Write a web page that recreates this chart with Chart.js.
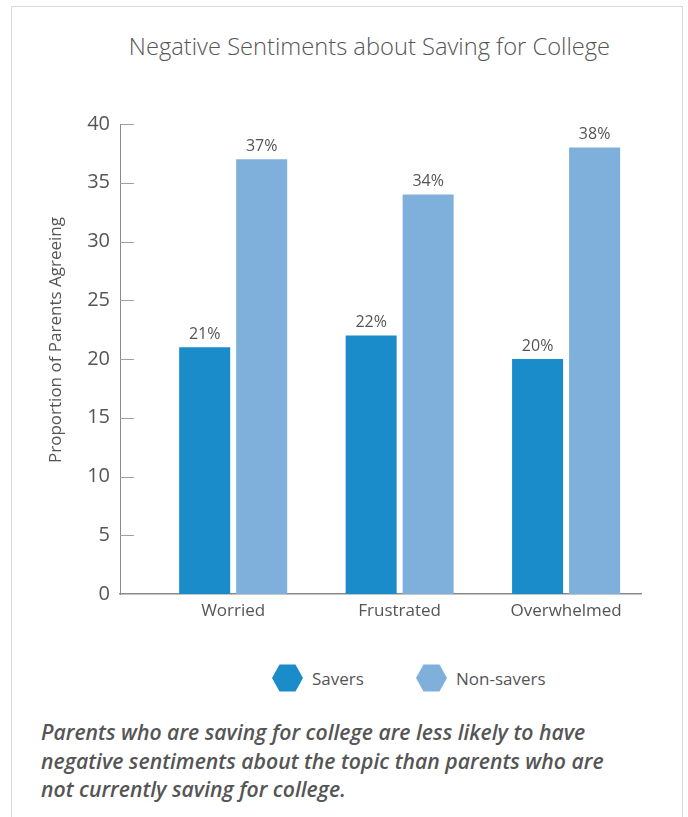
<!DOCTYPE html>
<html>
<head>
<meta charset="utf-8">
<script src="https://cdn.jsdelivr.net/npm/chart.js@4.4.1/dist/chart.umd.min.js"></script>
<style>
  html, body { margin: 0; padding: 0; background: #fff; }
  body { width: 688px; height: 817px; position: relative; overflow: hidden;
         font-family: "Open Sans", "Noto Sans", sans-serif; color: #555; }
  .card { position: absolute; left: 11px; top: 6px; width: 672px; height: 840px;
          border: 1px solid #d9d9d9; box-sizing: border-box; }
  #title { position: absolute; left: 0; width: 739px; top: 30px; text-align: center;
           font-size: 23.7px; font-weight: 300; white-space: nowrap; color: #555; }
  #chartWrap { position: absolute; left: 0; top: 0; width: 688px; height: 640px; }
  #legend { position: absolute; top: 663px; left: 0; width: 688px; height: 30px; }
  .item { position: absolute; top: 0; height: 30px; display: flex; align-items: center;
          font-size: 17px; color: #555; }
  .item svg { margin-right: 9px; }
  #caption { position: absolute; left: 41px; top: 718px; width: 630px;
             font-size: 21.2px; line-height: 28.5px; font-style: italic; font-weight: 600;
             color: #555; white-space: nowrap; }
</style>
</head>
<body>
<div class="card"></div>
<div id="title">Negative Sentiments about Saving for College</div>
<div id="chartWrap"><canvas id="chart" width="688" height="640"></canvas></div>
<div id="legend"></div>
<div id="caption">Parents who are saving for college are less likely to have<br>negative sentiments about the topic than parents who are<br>not currently saving for college.</div>

<script>
// Categories and series
const categories = ["Worried", "Frustrated", "Overwhelmed"];
const savers = [21, 22, 20];
const nonSavers = [37, 34, 38];
const seriesNames = ["Savers", "Non-savers"];
const yTicks = [0, 5, 10, 15, 20, 25, 30, 35, 40];

const COLORS = ["#1a8cca", "#7fb0dc"];
const TEXT = "#555555";
const AXIS = "#8a8a8a";

// Short inward tick marks on the value axis
const innerTicks = {
  id: "innerTicks",
  afterDraw(chart) {
    const y = chart.scales.y;
    const ctx = chart.ctx;
    const x0 = chart.chartArea.left;
    ctx.save();
    ctx.strokeStyle = "#a0a0a0";
    ctx.lineWidth = 1;
    yTicks.forEach(v => {
      if (v === 0) return;
      const py = Math.round(y.getPixelForValue(v)) + 0.5;
      ctx.beginPath();
      ctx.moveTo(x0, py);
      ctx.lineTo(x0 + 14, py);
      ctx.stroke();
    });
    ctx.restore();
  }
};

// Percent labels above each bar
const valueLabels = {
  id: "valueLabels",
  afterDatasetsDraw(chart) {
    const ctx = chart.ctx;
    ctx.save();
    ctx.font = '16px "Open Sans", sans-serif';
    ctx.fillStyle = TEXT;
    ctx.textAlign = "center";
    ctx.textBaseline = "bottom";
    chart.data.datasets.forEach((ds, di) => {
      chart.getDatasetMeta(di).data.forEach((bar, i) => {
        ctx.fillText(ds.data[i].y + "%", bar.x, bar.y - 5);
      });
    });
    ctx.restore();
  }
};

// Rotated value-axis title
const yTitle = {
  id: "yTitle",
  afterDraw(chart) {
    const ctx = chart.ctx;
    ctx.save();
    ctx.translate(56, 340);
    ctx.rotate(-Math.PI / 2);
    ctx.font = '17px "Open Sans", sans-serif';
    ctx.fillStyle = TEXT;
    ctx.textAlign = "center";
    ctx.textBaseline = "middle";
    ctx.fillText("Proportion of Parents Agreeing", 0, 0);
    ctx.restore();
  }
};

const chart = new Chart(document.getElementById("chart"), {
  type: "bar",
  data: {
    datasets: [
      { label: seriesNames[0], data: savers.map((v, i) => ({ x: i, y: v })),
        backgroundColor: COLORS[0], borderWidth: 0 },
      { label: seriesNames[1], data: nonSavers.map((v, i) => ({ x: i, y: v })),
        backgroundColor: COLORS[1], borderWidth: 0 }
    ]
  },
  options: {
    responsive: false,
    animation: false,
    events: [],
    categoryPercentage: 0.685,
    barPercentage: 0.895,
    layout: { padding: { top: 124, right: 47, left: 0, bottom: 0 } },
    plugins: { legend: { display: false }, tooltip: { enabled: false }, title: { display: false } },
    scales: {
      x: {
        type: "linear",
        offset: false,
        bounds: "data",
        min: -0.68,
        max: 2.45,
        grid: { display: false, drawTicks: false, offset: false },
        border: { display: true, color: AXIS, width: 1.5 },
        ticks: {
          autoSkip: false,
          maxRotation: 0,
          padding: 7,
          color: TEXT,
          font: { family: '"Open Sans", sans-serif', size: 17 },
          callback: v => categories[v]
        },
        // one tick per category index
        afterBuildTicks: s => { s.ticks = categories.map((_, i) => ({ value: i })); },
        afterFit: s => { s.height = 46; }
      },
      y: {
        min: 0,
        max: 40,
        grid: { display: false, drawTicks: false },
        border: { display: true, color: AXIS, width: 1 },
        ticks: {
          stepSize: 5,
          padding: 10,
          color: TEXT,
          font: { family: '"Open Sans", sans-serif', size: 20 }
        },
        afterFit: s => { s.width = 120; }
      }
    }
  },
  plugins: [innerTicks, valueLabels, yTitle]
});

// Legend with hexagon swatches
const legend = document.getElementById("legend");
const legendX = [272, 416];
seriesNames.forEach((name, i) => {
  const item = document.createElement("div");
  item.className = "item";
  item.style.left = legendX[i] + "px";
  item.innerHTML =
    '<svg width="31" height="28" viewBox="0 0 31 28"><polygon points="0,14 7.5,0.5 23.5,0.5 31,14 23.5,27.5 7.5,27.5" fill="' +
    COLORS[i] + '"/></svg><span>' + name + '</span>';
  legend.appendChild(item);
});
</script>
</body>
</html>
